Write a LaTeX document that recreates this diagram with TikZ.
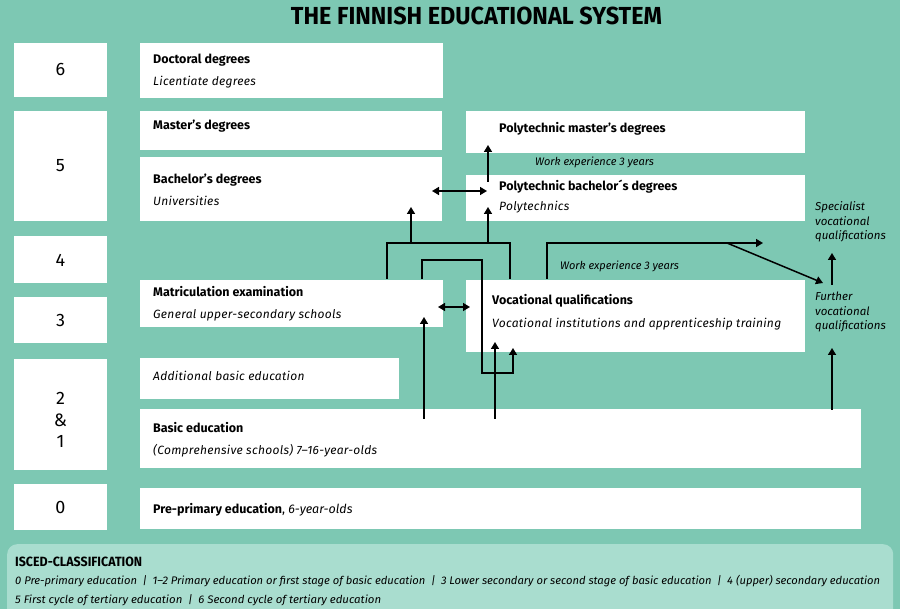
\documentclass[tikz,border=0pt]{standalone}
\usepackage{fontspec}
\setmainfont{Fira Sans}
\usepackage{graphicx}
\usetikzlibrary{arrows.meta}
\definecolor{bgteal}{HTML}{7DC8B3}
\definecolor{panelteal}{HTML}{A9DDCF}
\begin{document}
\begin{tikzpicture}[x=1pt,y=-1pt,
  box/.style={fill=white, draw=none, inner sep=0pt, outer sep=0pt},
  lvl/.style={box, minimum width=93pt, font=\fontsize{18}{21}\selectfont},
  hd/.style={anchor=base west, inner sep=0pt, font=\fontsize{12.5}{14}\selectfont\bfseries},
  sub/.style={anchor=base west, inner sep=0pt, font=\fontsize{12}{14}\selectfont\itshape\addfontfeatures{LetterSpace=2.5}},
  note/.style={anchor=base west, inner sep=0pt, font=\fontsize{11}{13}\selectfont\itshape},
  side/.style={anchor=base west, inner sep=0pt, font=\fontsize{11.5}{13}\selectfont\itshape},
  conn/.style={line width=1.5pt, black},
  arr/.style={conn, -{Triangle[width=8pt,length=7pt]}},
  darr/.style={conn, {Triangle[width=8pt,length=7pt]}-{Triangle[width=8pt,length=7pt]}},
]
\useasboundingbox (0,0) rectangle (900,609);
\fill[bgteal] (0,0) rectangle (900,609);

% title
\node[inner sep=0pt] (title) at (476.5,15.5) {\resizebox{371pt}{17.5pt}{\bfseries THE FINNISH EDUCATIONAL SYSTEM}};

% level boxes
\node[lvl, minimum height=54pt] (l6) at (60.5,70) {6};
\node[lvl, minimum height=110pt] (l5) at (60.5,166) {5};
\node[lvl, minimum height=47pt] (l4) at (60.5,260) {4};
\node[lvl, minimum height=46pt] (l3) at (60.5,320) {3};
\node[lvl, minimum height=111pt] (l21) at (60.5,414.5) {};
\node[inner sep=0pt, align=center, font=\fontsize{18}{21.5}\selectfont] (l21t) at (60.5,420) {2\\\&\\1};
\node[lvl, minimum height=46pt] (l0) at (60.5,507) {0};

% content boxes
\node[box, minimum width=303pt, minimum height=55pt] (doc) at (291.5,70.5) {};
\node[box, minimum width=302pt, minimum height=39pt] (mas) at (291,130.5) {};
\node[box, minimum width=302pt, minimum height=64pt] (bac) at (291,189) {};
\node[box, minimum width=339pt, minimum height=42pt] (pmas) at (635.5,132) {};
\node[box, minimum width=339pt, minimum height=46pt] (pbac) at (635.5,198) {};
\node[box, minimum width=303pt, minimum height=47pt] (mat) at (291.5,303.5) {};
\node[box, minimum width=339pt, minimum height=72pt] (voc) at (635.5,316) {};
\node[box, minimum width=259pt, minimum height=41pt] (add) at (269.5,378.5) {};
\node[box, minimum width=721pt, minimum height=59pt] (bas) at (500.5,438.5) {};
\node[box, minimum width=721pt, minimum height=41pt] (pre) at (500.5,508.5) {};

% texts
\node[hd] (tdoc) at (153,64) {Doctoral degrees};
\node[sub] (tlic) at (153,86) {Licentiate degrees};
\node[hd] (tmas) at (153,130) {Master’s degrees};
\node[hd] (tbac) at (153,184) {Bachelor’s degrees};
\node[sub] (tuni) at (153,206) {Universities};
\node[hd] (tpmas) at (499,133) {Polytechnic master’s degrees};
\node[note] (twe1) at (535,166) {Work experience 3 years};
\node[hd] (tpbac) at (499,191) {Polytechnic bachelor´s degrees};
\node[sub] (tpol) at (499,211) {Polytechnics};
\node[side] (sp1) at (815,211) {Specialist};
\node[side] (sp2) at (815,226) {vocational};
\node[side] (sp3) at (815,240) {qualifications};
\node[note] (twe2) at (560,270) {Work experience 3 years};
\node[hd] (tmat) at (153,297) {Matriculation examination};
\node[sub] (tgen) at (153,319) {General upper-secondary schools};
\node[hd] (tvoc) at (492,305) {Vocational qualifications};
\node[sub] (tvin) at (492,328) {Vocational institutions and apprenticeship training};
\node[side] (fu1) at (815,301) {Further};
\node[side] (fu2) at (815,316) {vocational};
\node[side] (fu3) at (815,330) {qualifications};
\node[sub] (tadd) at (153,381) {Additional basic education};
\node[hd] (tbas) at (153,433) {Basic education};
\node[sub] (tcom) at (153,455) {(Comprehensive schools) 7–16-year-olds};
\node[hd] (tpre) at (153,513) {Pre-primary education\textmd{, \itshape 6-year-olds}};

% ISCED panel
\node[fill=panelteal, rounded corners=10pt, minimum width=886pt, minimum height=80pt, anchor=north west, inner sep=0pt] (isced) at (7,544) {};
\node[anchor=base west, inner sep=0pt] (ish) at (15,566) {\resizebox{127pt}{9.5pt}{\bfseries ISCED-CLASSIFICATION}};
\node[anchor=base west, inner sep=0pt, font=\fontsize{11}{13}\selectfont\itshape] (is1) at (15,584) {\resizebox{865pt}{\height}{0 Pre-primary education\enspace|\enspace 1–2 Primary education or first stage of basic education\enspace|\enspace 3 Lower secondary or second stage of basic education\enspace|\enspace 4 (upper) secondary education}};
\node[anchor=base west, inner sep=0pt, font=\fontsize{11}{13}\selectfont\itshape] (is2) at (15,603) {\resizebox{366pt}{\height}{5 First cycle of tertiary education\enspace|\enspace 6 Second cycle of tertiary education}};

% connector points
\coordinate (pm1) at (488,182);
\coordinate (pm2) at (488,145);
\coordinate (dbl1) at (432,191);
\coordinate (dbl2) at (487,191);
\coordinate (ob1) at (387,279);
\coordinate (ob2) at (510,279);
\coordinate (obt) at (387,243);
\coordinate (ba1) at (411,243);
\coordinate (ba2) at (411,207);
\coordinate (pb1) at (488,243);
\coordinate (pb2) at (488,207);
\coordinate (ib1) at (422,279);
\coordinate (ibt) at (422,260);
\coordinate (ibr) at (482,373);
\coordinate (ibe) at (513,348);
\coordinate (dm1) at (438,307);
\coordinate (dm2) at (470,307);
\coordinate (bm1) at (424,419);
\coordinate (bm2) at (424,317);
\coordinate (bv1) at (495,419);
\coordinate (bv2) at (495,342);
\coordinate (vs1) at (547,279);
\coordinate (vs2) at (763,243);
\coordinate (dg1) at (727,243);
\coordinate (dg2) at (823,283);
\coordinate (bf1) at (832,410);
\coordinate (bf2) at (832,348);
\coordinate (fs1) at (832,285);
\coordinate (fs2) at (832,253);

% connectors
\draw[arr] (pm1) -- (pm2);
\draw[darr] (dbl1) -- (dbl2);
\draw[conn] (ob1) |- (ob2 |- obt) -- (ob2);
\draw[arr] (ba1) -- (ba2);
\draw[arr] (pb1) -- (pb2);
\draw[arr] (ib1) -- (ibt) -| (ibr) -| (ibe);
\draw[darr] (dm1) -- (dm2);
\draw[arr] (bm1) -- (bm2);
\draw[arr] (bv1) -- (bv2);
\draw[arr] (vs1) |- (vs2);
\draw[arr] (dg1) -- (dg2);
\draw[arr] (bf1) -- (bf2);
\draw[arr] (fs1) -- (fs2);
\end{tikzpicture}
\end{document}
